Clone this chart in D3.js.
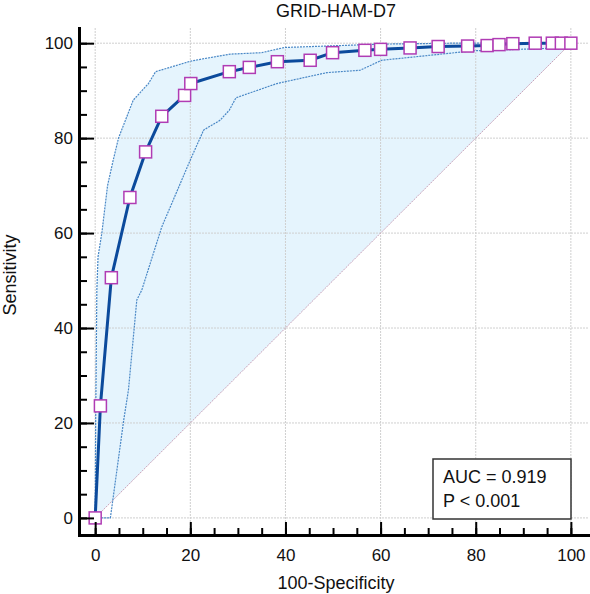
<!DOCTYPE html>
<html>
<head>
<meta charset="utf-8">
<script src="https://cdn.jsdelivr.net/npm/d3@7"></script>
<style>
body{margin:0;background:#fff;}
svg{display:block;font-family:"Liberation Sans",Arial,sans-serif;}
</style>
</head>
<body>
<svg id="svg"></svg>
<script>

var width = 590, height = 594;

// roc curve : 100-specificity / sensitivity
var rocX = [0,1.1,3.4,7.3,10.6,14.0,18.8,20.1,28.2,32.4,38.3,45.2,49.9,56.7,60.0,66.2,72.1,78.3,82.4,84.9,87.8,92.5,96.1,98.0,100];
var rocY = [0,23.6,50.6,67.5,77.1,84.6,89.0,91.5,94.0,94.9,96.1,96.4,98.0,98.5,98.7,99.0,99.3,99.4,99.5,99.7,99.9,100,100,100,100];

// 95% confidence bounds
var upperX = [0,0.1,0.35,0.6,1.4,2.6,3.8,4.9,8.0,11.2,12.7,20.0,22.1,28.4,35.0,39.8,48.7,59.9,75,100];
var upperY = [0,20,48,55,60,70,75.4,80,88,91.5,94,96.2,96.6,97.7,98.0,99.1,99.4,99.8,100,100];
var lowerX = [0,3.2,6.0,7.0,8.75,9.8,14.0,20.0,22.8,26.3,28.2,29.6,38.2,48.7,55.7,60.2,64.1,79.5,94.9,100];
var lowerY = [0,0,20.6,27,45.9,48,61.3,75.4,81.7,83.8,85.9,88.5,91.5,93.8,94.3,96.4,96.8,98.4,98.9,100];

var majorTicks = [0,20,40,60,80,100];
var minorTicks = d3.range(0,101,5);

var title = "GRID-HAM-D7";
var xLabel = "100-Specificity";
var yLabel = "Sensitivity";
var statLines = ["AUC = 0.919", "P < 0.001"];

var svg, x, y;

function pts(xs, ys){
    return xs.map(function(d,i){ return [d, ys[i]]; });
}

function initSVG(){
    svg = d3.select("#svg").attr("width",width).attr("height",height);

    x = d3.scaleLinear().domain([-3.4,103.6]).range([79,588]);
    y = d3.scaleLinear().domain([-3.6,103.2]).range([535,28]);
}

function drawViz(){
    var line = d3.line().x(function(d){return x(d[0]);}).y(function(d){return y(d[1]);});

    // light blue area under the upper bound, closed by the diagonal
    svg.append("path")
        .attr("d", line(pts(upperX,upperY)) + "Z")
        .attr("fill","#e5f4fd")
        .attr("stroke","none");

    // grid
    var grid = svg.append("g").attr("class","grid");
    grid.selectAll(".gx").data(majorTicks).enter().append("line")
        .attr("x1",function(d){return x(d);}).attr("x2",function(d){return x(d);})
        .attr("y1",y.range()[1]).attr("y2",y.range()[0]);
    grid.selectAll(".gy").data(majorTicks).enter().append("line")
        .attr("y1",function(d){return y(d);}).attr("y2",function(d){return y(d);})
        .attr("x1",x.range()[0]).attr("x2",x.range()[1]);
    grid.selectAll("line")
        .attr("stroke","#cfcfcf")
        .attr("stroke-width",1)
        .attr("stroke-dasharray","2,1");

    // reference diagonal
    svg.append("path")
        .attr("d", line([[0,0],[100,100]]))
        .attr("stroke","#c9a3ba")
        .attr("stroke-width",1)
        .attr("stroke-dasharray","2,1")
        .attr("fill","none");

    // CI lines
    [pts(upperX,upperY), pts(lowerX,lowerY)].forEach(function(p){
        svg.append("path")
            .attr("d", line(p))
            .attr("fill","none")
            .attr("stroke","#4a88c6")
            .attr("stroke-width",1.2)
            .attr("stroke-dasharray","2,1");
    });

    // roc
    var roc = pts(rocX,rocY);
    svg.append("path")
        .attr("d", line(roc))
        .attr("fill","none")
        .attr("stroke","#0b4a9c")
        .attr("stroke-width",3)
        .attr("stroke-linejoin","round");

    var s = 12;
    svg.selectAll(".mk").data(roc).enter().append("rect")
        .attr("x",function(d){return x(d[0])-s/2;})
        .attr("y",function(d){return y(d[1])-s/2;})
        .attr("width",s).attr("height",s)
        .attr("fill","#fff")
        .attr("stroke","#b03cb4")
        .attr("stroke-width",1.5);
}

function drawAxes(){
    // minor ticks first, then major with labels
    var xMinor = svg.append("g").attr("transform","translate(0,535)")
        .call(d3.axisBottom(x).tickValues(minorTicks).tickSize(-7).tickSizeOuter(0).tickFormat(""));
    var yMinor = svg.append("g").attr("transform","translate(79,0)")
        .call(d3.axisLeft(y).tickValues(minorTicks).tickSize(-8).tickSizeOuter(0).tickFormat(""));

    var xAxis = svg.append("g").attr("transform","translate(0,535)")
        .call(d3.axisBottom(x).tickValues(majorTicks).tickSize(-13).tickSizeOuter(0).tickPadding(14));
    var yAxis = svg.append("g").attr("transform","translate(79,0)")
        .call(d3.axisLeft(y).tickValues(majorTicks).tickSize(-15).tickSizeOuter(0).tickPadding(6));

    [xMinor,yMinor,xAxis,yAxis].forEach(function(g){
        g.selectAll(".tick line").attr("stroke","#000").attr("stroke-width",2);
        g.select(".domain").attr("stroke","#000").attr("stroke-width",3).attr("stroke-linecap","square");
        g.selectAll("text").attr("font-size",17).attr("fill","#111")
            .attr("font-family","'Liberation Sans',Arial,sans-serif");
    });
}

function drawText(){
    svg.append("text")
        .attr("x",336).attr("y",17)
        .attr("text-anchor","middle")
        .attr("font-size",18).attr("fill","#111")
        .text(title);

    svg.append("text")
        .attr("x",336).attr("y",589)
        .attr("text-anchor","middle")
        .attr("font-size",18).attr("fill","#111")
        .text(xLabel);

    svg.append("text")
        .attr("transform","translate(16,275) rotate(-90)")
        .attr("text-anchor","middle")
        .attr("font-size",18).attr("fill","#111")
        .text(yLabel);

    // stats box
    svg.append("rect")
        .attr("x",433).attr("y",459).attr("width",138).attr("height",60)
        .attr("fill","#fff").attr("stroke","#333").attr("stroke-width",1.5);
    statLines.forEach(function(t,i){
        svg.append("text")
            .attr("x",443).attr("y",483 + i*24)
            .attr("font-size",18).attr("fill","#111")
            .text(t);
    });
}

function init(){
    initSVG();
    drawViz();
    drawAxes();
    drawText();
}

document.addEventListener("DOMContentLoaded", function(event) {
    init();
});
</script>
</body>
</html>
